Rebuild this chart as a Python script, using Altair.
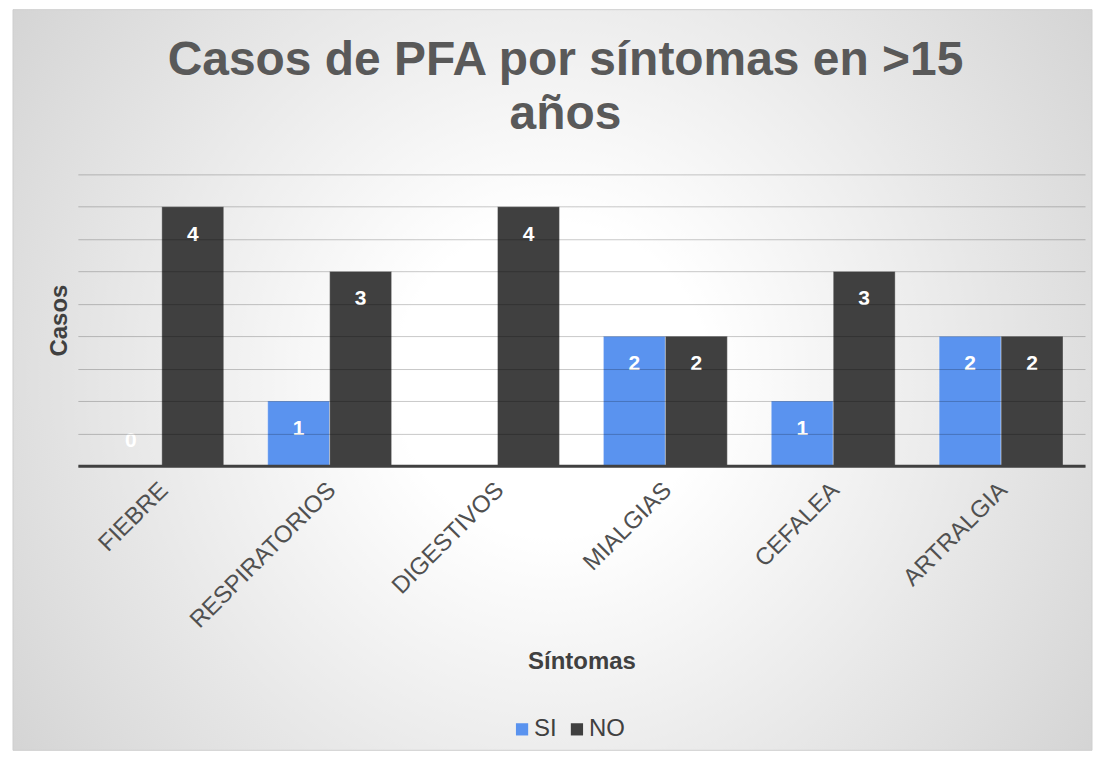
import altair as alt
import pandas as pd

categorias = ["FIEBRE", "RESPIRATORIOS", "DIGESTIVOS", "MIALGIAS", "CEFALEA", "ARTRALGIA"]
si_valores = [0, 1, 0, 2, 1, 2]
no_valores = [4, 3, 4, 2, 3, 2]
series = ["SI", "NO"]
colores = ["#5A93EF", "#404040"]

rows = []
for c, s, n in zip(categorias, si_valores, no_valores):
    rows.append({"cat": c, "serie": "SI", "valor": s})
    rows.append({"cat": c, "serie": "NO", "valor": n})
df = pd.DataFrame(rows)

FONT = "Liberation Sans"
W, H = 1009, 292

x_enc = alt.X("cat:N", sort=categorias,
              scale=alt.Scale(paddingInner=0.262, paddingOuter=0.131),
              axis=alt.Axis(title="Síntomas", labelAngle=-45, labelAlign="right",
                            labelBaseline="top", labelPadding=12, labelOffset=-6,
                            labelFontSize=24, labelLimit=400,
                            labelFont=FONT, labelColor="#505050", labelOverlap=False,
                            ticks=False, domainColor="#404040", domainWidth=3,
                            titleFont=FONT, titleFontSize=24, titleFontWeight="bold",
                            titleColor="#404040", titlePadding=17, grid=False, zindex=2))
xo_enc = alt.XOffset("serie:N", sort=series, scale=alt.Scale(paddingInner=0, paddingOuter=0))
y_enc = alt.Y("valor:Q", scale=alt.Scale(domain=[0, 4.5], nice=False),
              axis=alt.Axis(title="Casos", labels=False, ticks=False, domain=False,
                            values=[0, 0.5, 1, 1.5, 2, 2.5, 3, 3.5, 4, 4.5],
                            grid=True, gridColor="#000000", gridOpacity=0.22, gridWidth=1,
                            zindex=1, titleFont=FONT, titleFontSize=24,
                            titleFontWeight="bold", titleColor="#404040", titlePadding=6))

fondo = alt.Chart(pd.DataFrame({"k": [0]})).mark_rect(
    fill={"gradient": "radial", "x1": 0.5, "y1": 0.5, "r1": 0,
          "x2": 0.5, "y2": 0.5, "r2": 0.72,
          "stops": [{"offset": 0, "color": "#ffffff"},
                    {"offset": 0.2, "color": "#ffffff"},
                    {"offset": 1, "color": "#cacaca"}]},
    stroke="#cfcfcf", strokeWidth=1
).encode(x=alt.value(-65), x2=alt.value(W + 7), y=alt.value(-165), y2=alt.value(577))

base = alt.Chart(df).encode(x=x_enc, xOffset=xo_enc, y=y_enc)

barras = base.mark_bar(stroke="#ffffff", strokeOpacity=0.35, strokeWidth=1).encode(
    color=alt.Color("serie:N", sort=series,
                    scale=alt.Scale(domain=series, range=colores),
                    legend=alt.Legend(orient="none", legendX=433, legendY=544,
                                      direction="horizontal", title=None,
                                      symbolType="square", symbolSize=150,
                                      symbolStrokeWidth=0, symbolOpacity=1,
                                      labelFontSize=24, labelFont=FONT,
                                      labelColor="#404040", columnPadding=8,
                                      labelOffset=0))
)

etiquetas = base.transform_filter("datum.valor > 0").mark_text(
    color="white", font=FONT, fontSize=21, fontWeight="bold", baseline="middle", dy=28
).encode(text="valor:Q")

ceros = base.transform_filter("datum.valor == 0").mark_text(
    color="white", font=FONT, fontSize=21, fontWeight="bold", baseline="middle", dy=-25
).encode(text="valor:Q")

chart = alt.layer(fondo, barras, etiquetas, ceros).properties(
    width=W, height=H,
    padding={"left": 4, "top": 0, "right": 0, "bottom": 0},
    background="white",
    title=alt.TitleParams(text=["Casos de PFA por síntomas en >15", "años"],
                          font=FONT, fontSize=48, fontWeight="bold", color="#595959",
                          anchor="middle", dx=-16, offset=-130, lineHeight=54)
).configure_view(stroke="transparent")

chart.save("out.html", embed_options={"renderer": "svg", "actions": False})
